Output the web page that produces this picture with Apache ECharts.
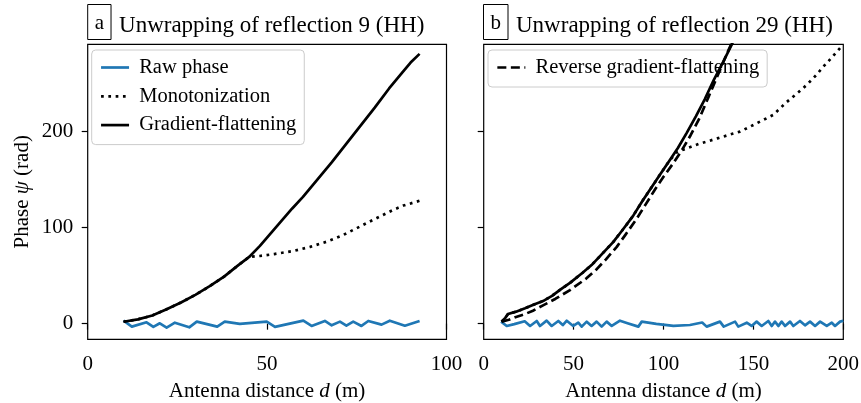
<!DOCTYPE html>
<html>
<head>
<meta charset="utf-8">
<script src="https://cdn.jsdelivr.net/npm/echarts@6/dist/echarts.min.js"></script>
<style>
html,body{margin:0;padding:0;background:#fff;}
#c{width:861px;height:403px;}
</style>
</head>
<body>
<div id="c"></div>
<script>
// ---- Panel a: reflection 9 ----
const leftRawX = [10,12.3,16.4,18.3,20.1,22,24.3,28.3,30.4,36.1,38.2,42.4,49.9,52.2,60.1,62.4,66.1,68,70.3,72.1,74,76.3,78.2,81.9,84.2,88.4,92.5];
const leftRawY = [3.1,-3.1,1.4,-3.4,0.4,-4.1,1,-3.8,2.1,-3.1,2.1,-0.3,2.1,-3.4,3.1,-2.4,2.8,-1.7,2.1,-2.1,2.1,-2.4,2.8,-1,3.1,-2.1,2.8];
const leftMonoX = [10,14,18,22,26,30,34,38,42,45,48,52,57.3,62,66.6,71,75.8,80,85.1,88,92.5];
const leftMonoY = [2,4.5,8.5,15,22,30,39,49,61,69.5,70.5,72.5,75.7,80,85.4,92,101,109,118.4,123,128];
const leftGfX = [10,14,18,22,26,30,34,38,42,45,48,51,54,57,60,64,68,72,76,80,84,88,90,92.5];
const leftGfY = [2,4.5,8.5,15,22,30,39,49,61,69.5,81,94,107,120,132,150,168,187,206,225,245,263,272,281];

// ---- Panel b: reflection 29 ----
const rightRawX = [9.7,12.8,17,22.8,25.8,29.5,31.3,35,37.8,41.5,44,46.2,49.8,52.6,54.5,57.3,60,62.8,65.6,68.4,71.2,75.8,80,86,87.9,96,105.5,114.7,121.5,124,131.4,133.5,139.8,141.6,146.3,149,151.8,154.6,158.3,160.2,162,163.9,165.7,167.6,170.4,172.2,175.9,178.7,181.5,184.3,187.1,190.8,193.6,195.4,198.2,200];
const rightRawY = [2.1,-2.4,-0.5,2.5,-2.4,2.8,-2.4,3.1,-2.4,2.8,-1.5,3.1,-2.4,1,-3.1,2.1,-2.4,2.1,-3.1,2.1,-2.4,3.1,0.5,-3.1,2.1,-0.3,-2.4,-1.4,1.2,-3.1,2.1,-3.1,2.1,-3.1,1,-2.4,2.1,-2.4,2.8,-2.4,2.1,-2.4,2.1,-2.4,2.1,-2.4,2.8,-1.7,2.1,-2.4,2.1,-2.4,1,-2.4,2.1,3];
const rightGfX = [10,12,13.5,18,23,28,33,38,43,48,55,60,66,72,77,83,88,93,98,103,108,113,118,123,128,133,138,140];
const rightGfY = [2,6,10,12.5,16,20,23.5,29,36,42.5,53,61,73,85,97,112,127,141,155,169,183,199,216,234,254,272,291,299];
const rightMonoX = [10,12,13.5,18,23,28,33,38,43,48,55,60,66,72,77,83,88,93,98,103,107,110,115,120,124,130,138.8,142.5,150,157.4,161,168,175,179.6,185,188.9,193,198.2,200];
const rightMonoY = [2,6,10,12.5,16,20,23.5,29,36,42.5,53,61,73,85,97,112,127,141,155,169,178,180.5,184,187.5,189.6,193,198,200,207,214,217.4,230,241,248.6,259,267.7,276,287,290];
const rightRevX = [10,14,18,23,27.4,33,40,48,57,63,68,74,79,85,90,95,100,105,110,115,120,125,130,135,139];
const rightRevY = [2,4,7,10,13.5,19,26,35,47,57,67,80,93,109,124,139,153,166,180,196,214,236,258,280,297];

const yTicks = [0, 100, 200];
const titleA = 'Unwrapping of reflection 9 (HH)';
const titleB = 'Unwrapping of reflection 29 (HH)';

const FONT = '"Liberation Serif", "Times New Roman", serif';
const FS = 21;
const BLUE = '#1f77b4';
const LW = 2.7;

function pairs(xs, ys) { return xs.map((x, i) => [x, ys[i]]); }

const chart = echarts.init(document.getElementById('c'), null, {renderer: 'canvas'});

const richTitle = {
  box: {fontSize: FS, fontFamily: FONT, fontWeight: 'normal', color: '#000', borderColor: '#000', borderWidth: 1,
        padding: [8, 7, 6, 7], lineHeight: 22, verticalAlign: 'middle'},
  t: {fontSize: 23, fontFamily: FONT, fontWeight: 'normal', color: '#000', padding: [7, 0, 0, 8], verticalAlign: 'middle'}
};

function xAxisCfg(idx, max) {
  return {
    type: 'value', gridIndex: idx, min: 0, max: max, interval: 50,
    name: 'Antenna distance {i|d} (m)', nameLocation: 'middle', nameGap: 42,
    nameTextStyle: {fontSize: FS, fontFamily: FONT, color: '#000',
      rich: {i: {fontSize: FS, fontFamily: FONT, fontStyle: 'italic', color: '#000'}}},
    axisLine: {show: false},
    axisTick: {show: true, length: 6, lineStyle: {color: '#000', width: 1.2}},
    axisLabel: {fontSize: FS, fontFamily: FONT, color: '#000', margin: 15},
    splitLine: {show: false}
  };
}
function yAxisCfg(idx, showLabels) {
  const cfg = {
    type: 'value', gridIndex: idx, min: -16.3, max: 291,
    axisLine: {show: false},
    axisTick: {show: true, length: 6, customValues: yTicks, lineStyle: {color: '#000', width: 1.2}},
    axisLabel: {show: showLabels, customValues: yTicks, fontSize: FS, fontFamily: FONT, color: '#000', margin: 14.4},
    splitLine: {show: false}
  };
  if (showLabels) {
    cfg.name = 'Phase {i|ψ} (rad)';
    cfg.nameLocation = 'middle';
    cfg.nameGap = 55;
    cfg.nameTextStyle = {fontSize: FS, fontFamily: FONT, color: '#000',
      rich: {i: {fontSize: FS, fontFamily: FONT, fontStyle: 'italic', color: '#000'}}};
  }
  return cfg;
}

const legendBase = {
  orient: 'vertical', top: 50, itemWidth: 28, itemHeight: 14, itemGap: 7.8,
  padding: [7, 8, 9, 8], borderColor: '#cccccc', borderWidth: 1, borderRadius: 4,
  backgroundColor: 'rgba(255,255,255,0.8)',
  itemStyle: {opacity: 0},
  lineStyle: {width: LW},
  textStyle: {fontSize: 20.5, fontFamily: FONT, color: '#000', lineHeight: 20},
  formatter: n => ' ' + n,
  selectedMode: false
};

function lineSeries(name, xi, xs, ys, color, type, z) {
  return {
    name: name, type: 'line', xAxisIndex: xi, yAxisIndex: xi,
    data: pairs(xs, ys), symbol: 'none', showSymbol: false, smooth: false,
    lineStyle: {color: color, width: LW, type: type, cap: 'butt', join: 'round'},
    itemStyle: {color: color}, z: z, animation: false, clip: true
  };
}

const option = {
  backgroundColor: '#fff',
  animation: false,
  textStyle: {fontFamily: FONT},
  title: [
    {left: 87.7, top: 7, padding: 0, text: '{box|a}{t|' + titleA + '}', textStyle: {fontWeight: 'normal', rich: richTitle}},
    {left: 483.5, top: 7, padding: 0, text: '{box|b}{t|' + titleB + '}', textStyle: {fontWeight: 'normal', rich: richTitle}}
  ],
  grid: [
    {left: 87.7, top: 44.3, width: 358.8, height: 295, show: true, borderColor: '#000', borderWidth: 1.2,
     backgroundColor: 'transparent', containLabel: false, outerBoundsMode: 'none'},
    {left: 483.7, top: 44.3, width: 359.6, height: 295, show: true, borderColor: '#000', borderWidth: 1.2,
     backgroundColor: 'transparent', containLabel: false, outerBoundsMode: 'none'}
  ],
  xAxis: [xAxisCfg(0, 100), xAxisCfg(1, 200)],
  yAxis: [yAxisCfg(0, true), yAxisCfg(1, false)],
  legend: [
    Object.assign({}, legendBase, {left: 91.7, data: ['Raw phase', 'Monotonization', 'Gradient-flattening']}),
    Object.assign({}, legendBase, {left: 488, data: ['Reverse gradient-flattening']})
  ],
  series: [
    lineSeries('Raw phase', 0, leftRawX, leftRawY, BLUE, 'solid', 2),
    lineSeries('Monotonization', 0, leftMonoX, leftMonoY, '#000', [2.7, 4.6], 3),
    lineSeries('Gradient-flattening', 0, leftGfX, leftGfY, '#000', 'solid', 4),
    lineSeries('Raw phase', 1, rightRawX, rightRawY, BLUE, 'solid', 2),
    lineSeries('Monotonization', 1, rightMonoX, rightMonoY, '#000', [2.7, 4.6], 3),
    lineSeries('Gradient-flattening', 1, rightGfX, rightGfY, '#000', 'solid', 4),
    lineSeries('Reverse gradient-flattening', 1, rightRevX, rightRevY, '#000', [9, 4.5], 5)
  ]
};
chart.setOption(option);
</script>
</body>
</html>
